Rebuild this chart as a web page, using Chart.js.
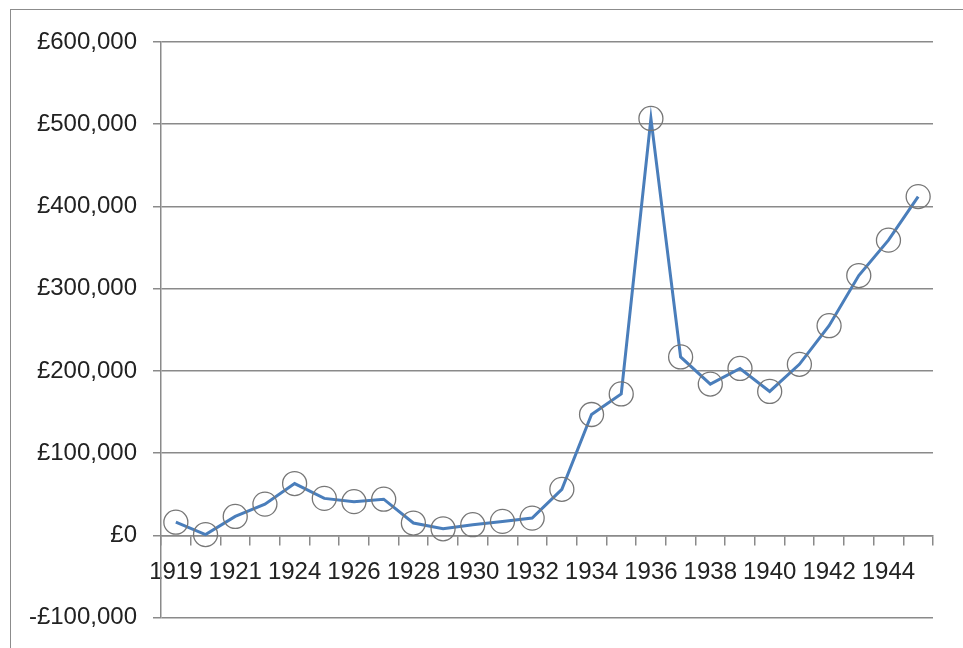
<!DOCTYPE html>
<html>
<head>
<meta charset="utf-8">
<script src="https://cdn.jsdelivr.net/npm/chart.js@4/dist/chart.umd.min.js"></script>
<style>
  html, body { margin: 0; padding: 0; background: #fff; overflow: hidden; }
  #frame {
    position: absolute; left: 10px; top: 9px;
    width: 1100px; height: 1000px;
    border: 1px solid #8c8c8c;
  }
  #wrap { position: absolute; left: 0; top: 0; width: 963px; height: 648px; }
</style>
</head>
<body>
<div id="frame"></div>
<div id="wrap"><canvas id="chart"></canvas></div>
<script>
// Years on the category axis (1922/1923 has only one entry in the source)
const years = ['1919', '1920', '1921', '1922', '1924', '1925', '1926', '1927', '1928',
  '1929', '1930', '1931', '1932', '1933', '1934', '1935', '1936', '1937', '1938',
  '1939', '1940', '1941', '1942', '1943', '1944', '1945'];

// Amount in pounds
const amounts = [16000, 1000, 23000, 38000, 63000, 45000, 41000, 44000, 15000,
  8000, 13000, 17000, 21000, 56000, 147000, 172000, 507000, 217000, 184000,
  203000, 175000, 208000, 255000, 316000, 359000, 412000];

const yMin = -100000;
const yMax = 600000;
const yStep = 100000;

const gridColor = '#8a8a8a';
const textColor = '#222222';
const font = { family: '"Liberation Sans", Arial, sans-serif', size: 24 };

function pounds(v) {
  const s = '£' + Math.abs(v).toLocaleString('en-GB');
  return v < 0 ? '-' + s : s;
}

new Chart(document.getElementById('chart'), {
  type: 'line',
  data: {
    labels: years,
    datasets: [{
      data: amounts,
      borderColor: '#4a7ebb',
      borderWidth: 3,
      tension: 0,
      pointRadius: 12,
      pointBorderWidth: 1.3,
      pointBorderColor: '#777777',
      pointBackgroundColor: 'rgba(255,255,255,0)',
      fill: false
    }]
  },
  options: {
    responsive: true,
    maintainAspectRatio: false,
    animation: false,
    layout: { padding: { top: 42, right: 30, bottom: 30, left: 0 } },
    plugins: { legend: { display: false }, tooltip: { enabled: false } },
    scales: {
      x: {
        position: { y: 0 },
        offset: true,
        afterFit: (s) => { s.height = 0; },
        grid: {
          offset: true,
          drawOnChartArea: false,
          drawTicks: true,
          tickLength: 9,
          color: gridColor,
          lineWidth: 1.5
        },
        border: { color: gridColor, width: 1.5 },
        ticks: {
          autoSkip: false,
          maxRotation: 0,
          padding: 14,
          color: textColor,
          font: font,
          callback: (v, i) => (i % 2 === 0 ? years[i] : '')
        }
      },
      y: {
        min: yMin,
        max: yMax,
        afterFit: (s) => { s.width = 161; },
        grid: {
          color: gridColor,
          lineWidth: 1.5,
          tickLength: 8
        },
        border: { color: gridColor, width: 1.5 },
        ticks: {
          stepSize: yStep,
          padding: 16,
          color: textColor,
          font: font,
          callback: (v) => pounds(v)
        }
      }
    }
  }
});
</script>
</body>
</html>
